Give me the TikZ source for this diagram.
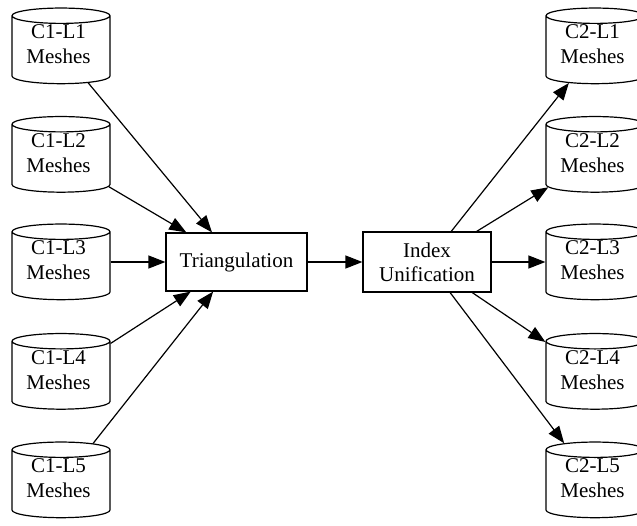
\documentclass[tikz,border=0pt]{standalone}
\usepackage{fontspec}
\setmainfont{Liberation Serif}
\usetikzlibrary{shapes.geometric,arrows.meta}
\begin{document}
\begin{tikzpicture}[x=1pt,y=-1pt,
  db/.style={draw, line width=1.2pt, shape=cylinder, shape border rotate=90, aspect=0.24,
    minimum width=98pt, inner sep=0pt,
    text width=64pt, text height=26pt, text depth=26pt,
    label={[align=center, font=\fontsize{21}{25}\selectfont, xshift=-2.5pt, yshift=5.5pt]center:#1}},
  proc/.style={draw, line width=1.2pt, rectangle, inner sep=0pt, align=center,
    font=\fontsize{21}{24}\selectfont},
  conn/.style={line width=1.2pt, -{Triangle[length=17pt,width=13pt]}}]
\useasboundingbox (0,0) rectangle (637,525);
\node[db={C1-L1\\Meshes}] (a1) at (61,50) {};
\node[db={C1-L2\\Meshes}] (a2) at (61,158.5) {};
\node[db={C1-L3\\Meshes}] (a3) at (61,266) {};
\node[db={C1-L4\\Meshes}] (a4) at (61,375.5) {};
\node[db={C1-L5\\Meshes}] (a5) at (61,484) {};
\node[db={C2-L1\\Meshes}] (b1) at (595,50) {};
\node[db={C2-L2\\Meshes}] (b2) at (595,158.5) {};
\node[db={C2-L3\\Meshes}] (b3) at (595,266) {};
\node[db={C2-L4\\Meshes}] (b4) at (595,375.5) {};
\node[db={C2-L5\\Meshes}] (b5) at (595,484) {};
\node[proc, minimum width=141pt, minimum height=58pt] (tri) at (236.5,262) {Triangulation};
\node[proc, minimum width=128pt, minimum height=60pt] (idx) at (427,262) {Index\\Unification};
\foreach \i in {1,2,4,5} {
  \draw[conn] (a\i) -- (tri);
  \draw[conn] (idx) -- (b\i);
}
\draw[conn] (a3.east |- tri) -- (tri);
\draw[conn] (idx) -- (b3.west |- idx);
\draw[conn] (tri) -- (idx);
\end{tikzpicture}
\end{document}
